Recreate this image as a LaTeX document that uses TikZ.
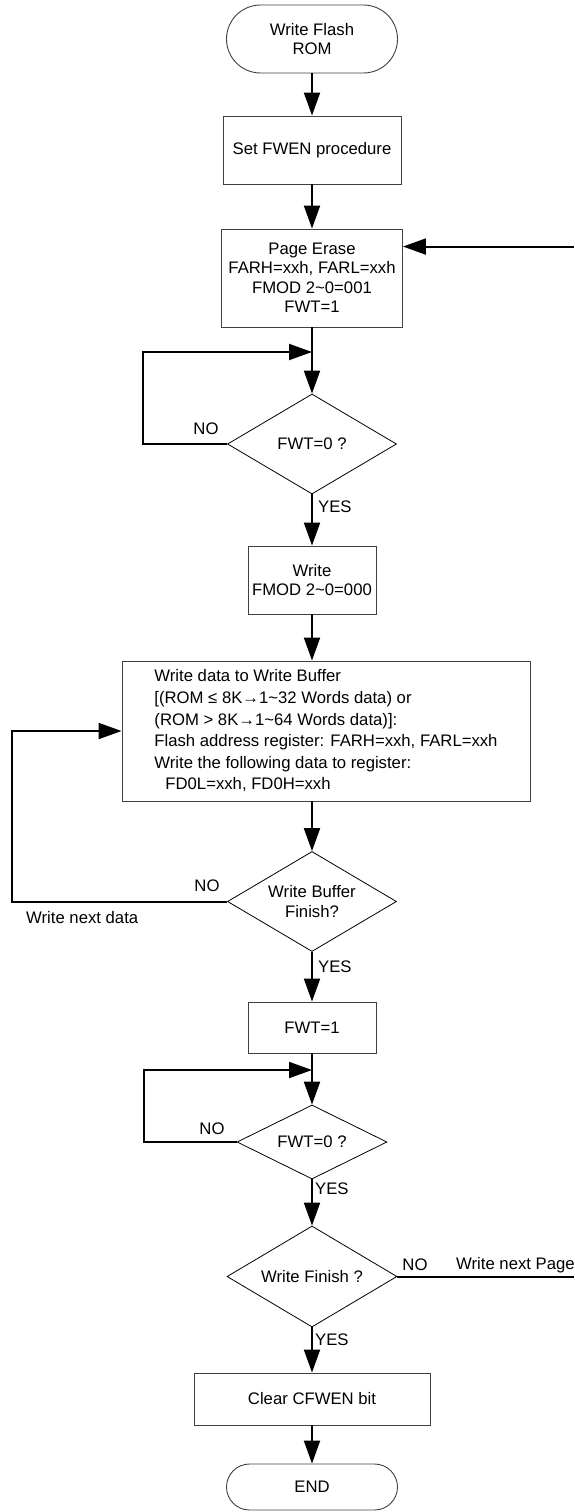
\documentclass[tikz,border=0pt]{standalone}
\usepackage{fontspec}
\setmainfont{Liberation Sans}
\usetikzlibrary{shapes.geometric,shapes.misc,arrows.meta,calc}
\begin{document}
\begin{tikzpicture}[x=1pt,y=-1pt,
  every node/.style={font=\fontsize{16.7}{19.5}\selectfont, inner sep=0pt},
  procbox/.style={draw=black!75, line width=0.9pt, rectangle, align=center},
  decbox/.style={draw=black, line width=0.8pt, diamond, align=center, shape aspect=1.7},
  termbox/.style={draw=black!75, line width=0.9pt, rounded rectangle, align=center},
  conn/.style={line width=2pt, -{Triangle[length=23pt,width=16pt]}},
  wire/.style={line width=2pt},
  lbl/.style={anchor=center},
  ylbl/.style={anchor=west}
]
\useasboundingbox (0,0) rectangle (574,1512);

% nodes
\node[termbox, minimum width=171pt, minimum height=68pt] (start) at (312,39) {Write Flash\\ROM};
\node[procbox, minimum width=178pt, minimum height=68pt] (fwen) at (312,150) {Set FWEN procedure};
\node[procbox, minimum width=181pt, minimum height=98pt] (erase) at (312,278)
  {Page Erase\\FARH=xxh, FARL=xxh\\FMOD 2\textasciitilde 0=001\\FWT=1};
\node[decbox, minimum width=169pt, minimum height=100pt] (d1) at (312,444) {FWT=0 ?};
\node[procbox, minimum width=128pt, minimum height=68pt] (wr) at (312,580) {Write\\FMOD 2\textasciitilde 0=000};
\node[procbox, minimum width=408pt, minimum height=140pt, align=left,
      font=\fontsize{16.7}{21.6}\selectfont] (buf) at (326,731)
  {Write data to Write Buffer\\
   {[}(ROM ≤ 8K→1\textasciitilde 32 Words data) or\\
   {(}ROM > 8K→1\textasciitilde 64 Words data)]:\\
   Flash address register: FARH=xxh, FARL=xxh\\
   Write the following data to register:\\
   \hspace*{11pt}FD0L=xxh, FD0H=xxh};
\node[decbox, minimum width=169pt, minimum height=100pt] (d2) at (312,901.5) {Write Buffer\\Finish?};
\node[procbox, minimum width=128pt, minimum height=51pt] (fwt) at (312,1027.5) {FWT=1};
\node[decbox, shape aspect=2, minimum width=150pt, minimum height=74pt] (d3) at (312,1142) {FWT=0 ?};
\node[decbox, minimum width=170pt, minimum height=101pt] (d4) at (312,1276.5) {Write Finish ?};
\node[procbox, minimum width=236pt, minimum height=52pt] (clr) at (312,1399) {Clear CFWEN bit};
\node[termbox, minimum width=171pt, minimum height=46pt] (end) at (312,1487) {END};

\coordinate (j1) at (312,352);
\coordinate (j3) at (312,1070);
\coordinate (rin) at ($(erase.north east)+(0,18)$);
\coordinate (redge) at (574,0);

% connectors
\draw[conn] (start.south) -- (fwen.north);
\draw[conn] (fwen.south) -- (erase.north);
\draw[conn] (erase.south) -- (d1.north);
\draw[conn] (d1.west) -- ++(-84,0) |- (j1);
\draw[conn] (d1.south) -- (wr.north);
\draw[conn] (wr.south) -- (wr.south |- buf.north);
\draw[conn] (d2.north |- buf.south) -- (d2.north);
\draw[conn] (d2.west) -- ++(-215,0) |- (buf.west);
\draw[conn] (d2.south) -- (fwt.north);
\draw[conn] (fwt.south) -- (d3.north);
\draw[conn] (d3.west) -- ++(-93,0) |- (j3);
\draw[conn] (d3.south) -- (d4.north);
\draw[conn] (d4.south) -- (clr.north);
\draw[conn] (clr.south) -- (end.north);
\draw[wire] (d4.east) -- (d4.east -| redge);
\draw[conn] (rin -| redge) -- (rin);

% labels
\node[lbl] (no1) at (206,429) {NO};
\node[ylbl] (yes1) at (318,507) {YES};
\node[lbl] (no2) at (207,886) {NO};
\node[ylbl] (wnd) at (26,918) {Write next data};
\node[ylbl] (yes2) at (318,967) {YES};
\node[lbl] (no3) at (212,1129) {NO};
\node[ylbl] (yes3) at (315,1189) {YES};
\node[lbl] (no4) at (415,1265) {NO};
\node[ylbl] (wnp) at (456,1265) {Write next Page};
\node[ylbl] (yes4) at (315,1340) {YES};
\end{tikzpicture}
\end{document}
